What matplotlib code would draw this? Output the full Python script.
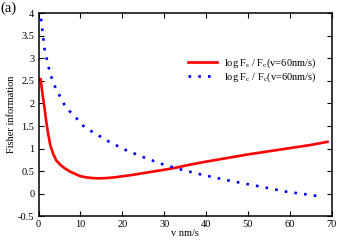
import numpy as np
import matplotlib
matplotlib.use('Agg')
import matplotlib.pyplot as plt

plt.rcParams['font.family'] = ['Liberation Serif', 'DejaVu Serif']
plt.rcParams['mathtext.fontset'] = 'custom'
plt.rcParams['mathtext.rm'] = 'Liberation Serif'

# values
v_s = [0.5, 0.8, 1.15, 1.5, 1.8, 2.3, 2.8, 3.5, 4.3, 5.2, 6.3, 7.5, 8.7, 9.9, 11.5,
       13.0, 14.5, 16.0, 18.0, 20.0, 22.0, 24.0, 26.0, 28.0, 30.0, 32.5, 36.0, 40.0,
       45.0, 50.0, 55.0, 60.0, 65.0, 69.0]
fs = [2.54, 2.32, 2.08, 1.86, 1.63, 1.33, 1.08, 0.88, 0.73, 0.64, 0.56, 0.49, 0.44,
      0.39, 0.36, 0.345, 0.34, 0.345, 0.36, 0.385, 0.41, 0.44, 0.47, 0.50, 0.53, 0.57,
      0.64, 0.71, 0.79, 0.87, 0.94, 1.01, 1.08, 1.15]

v_c = [0.6, 0.9, 1.4, 2.4, 3.0, 3.8, 4.9, 6.0, 7.4, 9.0, 10.6, 12.7, 16.5, 20.5, 25.0,
       29.4, 33.0, 38.1, 44.9, 51.7, 58.8, 68.0]
fc = [3.88, 3.65, 3.23, 2.81, 2.60, 2.40, 2.20, 2.00, 1.83, 1.68, 1.51, 1.38, 1.17,
      0.98, 0.81, 0.66, 0.56, 0.44, 0.30, 0.18, 0.05, -0.07]

fig = plt.figure(figsize=(3.5, 2.45), dpi=100)
ax = fig.add_axes([38.5 / 350, 28.8 / 245, 293.2 / 350, 202.9 / 245])

ax.plot(v_s, fs, color='#ff0000', lw=1.9, label=r'log F$_\mathrm{s}$ / F$_\mathrm{c}$(v=60nm/s)')
ax.plot(v_c, fc, color='#0000ff', lw=1.9, linestyle=(0, (1, 2.7)),
        label=r'log F$_\mathrm{c}$ / F$_\mathrm{c}$(v=60nm/s)')

ax.set_xlim(0, 70)
ax.set_ylim(-0.5, 4)
ax.set_xticks(np.arange(0, 71, 10))
ax.set_yticks(np.arange(-0.5, 4.01, 0.5))
ax.set_yticklabels(['-0.5', '0', '0.5', '1', '1.5', '2', '2.5', '3', '3.5', '4'])
ax.tick_params(direction='in', top=True, right=True, labelsize=7.5, length=3.5, width=0.8, pad=3)
for s in ax.spines.values():
    s.set_linewidth(1.1)

ax.set_xlabel('v nm/s', fontsize=7.5, labelpad=0)
ax.set_ylabel('Fisher information', fontsize=7.5, labelpad=1)
fig.text(0.0, 0.995, '(a)', fontsize=10.5, va='top', ha='left')

ax.legend(loc='center left', bbox_to_anchor=(0.511, 0.714), bbox_transform=fig.transFigure,
          frameon=False, fontsize=7.5, handlelength=2.8, handletextpad=0.65,
          labelspacing=0.1, borderpad=0.4)

fig.savefig('out.png', dpi=100)
